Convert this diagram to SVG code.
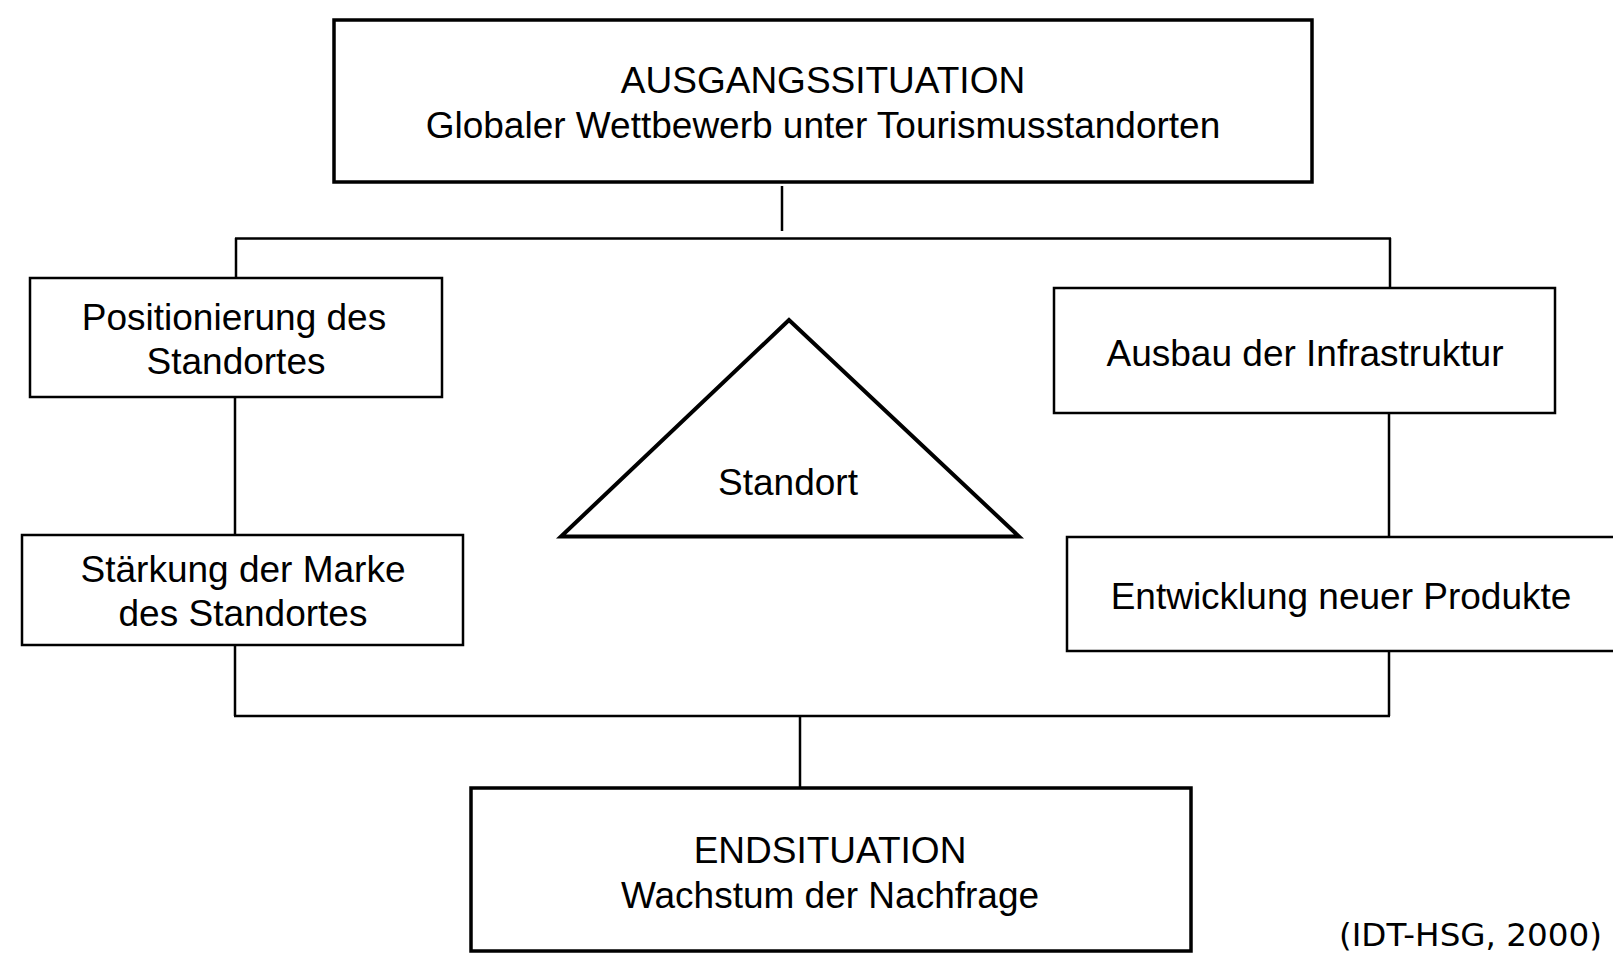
<svg xmlns="http://www.w3.org/2000/svg" width="1613" height="953" viewBox="0 0 1613 953">
<style>
.box{fill:#fff;stroke:#000;stroke-width:2.5}
.thick{fill:#fff;stroke:#000;stroke-width:3.5}
.t{font-family:"Liberation Sans",Arial,sans-serif;font-size:37px;fill:#000;text-anchor:middle}
.ln{stroke:#000;stroke-width:2.5;fill:none}
</style>
<rect width="1613" height="953" fill="#fff"/>
<g id="connectors">
<line class="ln" x1="782" y1="186" x2="782" y2="231"/>
<line class="ln" x1="235" y1="238.5" x2="1391" y2="238.5"/>
<line class="ln" x1="236" y1="238" x2="236" y2="278"/>
<line class="ln" x1="1390" y1="238" x2="1390" y2="288"/>
<line class="ln" x1="235" y1="397" x2="235" y2="535"/>
<line class="ln" x1="1389" y1="413" x2="1389" y2="537"/>
<line class="ln" x1="235" y1="645" x2="235" y2="716"/>
<line class="ln" x1="1389" y1="651" x2="1389" y2="716"/>
<line class="ln" x1="234" y1="716" x2="1390" y2="716"/>
<line class="ln" x1="800" y1="716" x2="800" y2="788"/>
</g>
<g id="start">
<rect class="thick" x="334" y="20" width="978" height="162"/>
<text class="t" x="823" y="93">AUSGANGSSITUATION</text>
<text class="t" x="823" y="138">Globaler Wettbewerb unter Tourismusstandorten</text>
</g>
<g id="positionierung">
<rect class="box" x="30" y="278" width="412" height="119"/>
<text class="t" x="234" y="330">Positionierung des</text>
<text class="t" x="236" y="374">Standortes</text>
</g>
<g id="marke">
<rect class="box" x="22" y="535" width="441" height="110"/>
<text class="t" x="243" y="582">Stärkung der Marke</text>
<text class="t" x="243" y="626">des Standortes</text>
</g>
<g id="infrastruktur">
<rect class="box" x="1054" y="288" width="501" height="125"/>
<text class="t" x="1305" y="366">Ausbau der Infrastruktur</text>
</g>
<g id="produkte">
<rect class="box" x="1067" y="537" width="550" height="114"/>
<text class="t" x="1341" y="609">Entwicklung neuer Produkte</text>
</g>
<g id="standort">
<polygon points="789,320 561,536.5 1019,536.5" fill="#fff" stroke="#000" stroke-width="4" stroke-linejoin="miter"/>
<text class="t" x="788" y="495">Standort</text>
</g>
<g id="end">
<rect class="thick" x="471" y="788" width="720" height="163"/>
<text class="t" x="830" y="863">ENDSITUATION</text>
<text class="t" x="830" y="908">Wachstum der Nachfrage</text>
</g>
<text x="1339" y="946" font-family="DejaVu Sans,sans-serif" font-size="32" fill="#000" textLength="263" lengthAdjust="spacingAndGlyphs">(IDT-HSG, 2000)</text>
</svg>
